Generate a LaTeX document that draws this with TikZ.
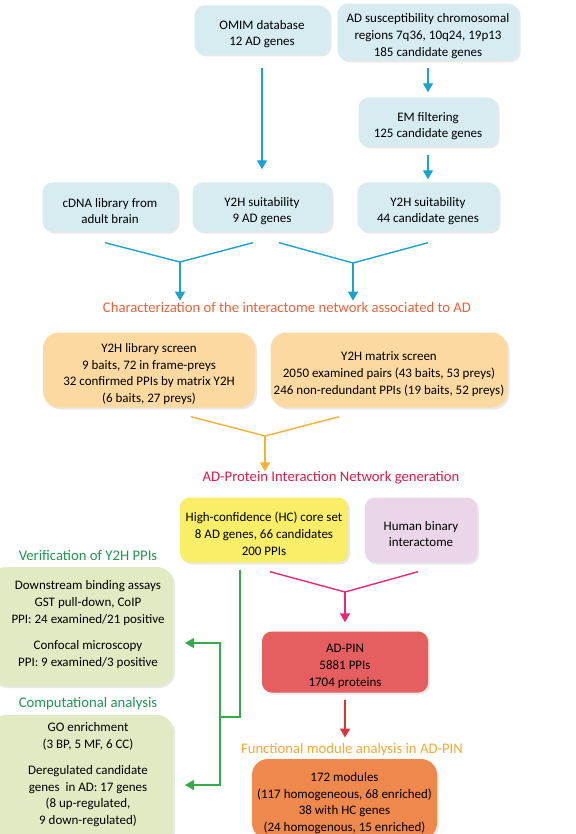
\documentclass[tikz,border=0pt]{standalone}
\usepackage{fontspec}
\setmainfont{Carlito}
\usetikzlibrary{arrows.meta,positioning,shadows}
\definecolor{boxblue}{RGB}{214,236,240}
\definecolor{lineblue}{RGB}{28,162,208}
\definecolor{titleorange}{RGB}{234,98,58}
\definecolor{boxorange}{RGB}{251,217,160}
\definecolor{lineorange}{RGB}{245,178,52}
\definecolor{titlered}{RGB}{222,28,68}
\definecolor{boxyellow}{RGB}{248,238,104}
\definecolor{boxpink}{RGB}{234,214,232}
\definecolor{linemagenta}{RGB}{230,40,120}
\definecolor{boxred}{RGB}{229,94,96}
\definecolor{linered}{RGB}{220,52,52}
\definecolor{titleamber}{RGB}{246,168,50}
\definecolor{boxamber}{RGB}{238,136,76}
\definecolor{titlegreen}{RGB}{32,150,82}
\definecolor{boxgreen}{RGB}{226,234,196}
\definecolor{linegreen}{RGB}{52,170,72}
\newcommand{\boxstrut}{\rule{0pt}{17pt}}
\tikzset{
    stepbox/.style={
           rectangle,
           rounded corners=10pt,
           inner sep=2pt,
           align=center,
           text=black,
           font=\fontsize{13}{16.7}\selectfont,
           drop shadow={opacity=0.18, shadow xshift=2pt, shadow yshift=-2pt},
           },
    boxtext/.style={
           align=center,
           text=black,
           font=\fontsize{13}{16.7}\selectfont,
           },
    heading/.style={
           font=\fontsize{14.7}{16}\selectfont,
           inner sep=1pt,
           },
    flow/.style={line width=1.4pt},
}

\begin{document}
\begin{tikzpicture}[x=1pt,y=-1pt,>={Triangle[length=9pt,width=10pt]}]
        \useasboundingbox (0,0) rectangle (575,834);
        \clip (0,0) rectangle (575,834);
        % sources
        \node[stepbox, fill=boxblue, minimum width=135pt, minimum height=49pt] (omim) at (262,30) {\boxstrut OMIM database\\12 AD genes};
        \node[stepbox, fill=boxblue, minimum width=181pt, minimum height=54pt] (susc) at (428,32) {\boxstrut AD susceptibility chromosomal\\regions 7q36, 10q24, 19p13\\185 candidate genes};
        \node[stepbox, fill=boxblue, below of=susc, node distance=90pt, minimum width=139pt, minimum height=49pt] (em) {\boxstrut EM filtering\\125 candidate genes};
        \node[stepbox, fill=boxblue, below of=em, node distance=85pt, minimum width=141pt, minimum height=49pt] (suit44) {\boxstrut Y2H suitability\\44 candidate genes};
        \node[stepbox, fill=boxblue, below of=omim, node distance=177pt, minimum width=139pt, minimum height=49pt] (suit9) {\boxstrut Y2H suitability\\9 AD genes};
        \node[stepbox, fill=boxblue, left of=suit9, node distance=152pt, minimum width=135pt, minimum height=49pt] (cdna) {\boxstrut cDNA library from\\adult brain};

        \draw[->, lineblue, flow] ([yshift=-13pt]omim.south) -- ([yshift=13pt]suit9.north);
        \draw[->, lineblue, flow] ([yshift=-7pt]susc.south) -- ([yshift=5pt]em.north);
        \draw[->, lineblue, flow] ([yshift=-8pt]em.south) -- ([yshift=3pt]suit44.north);

        % interactome
        \node[heading, text=titleorange] (charac) at (287,307) {Characterization of the interactome network associated to AD};
        \coordinate (jleft) at (180,262);
        \coordinate (jright) at (353,263);
        \draw[lineblue, flow] ([xshift=-5pt,yshift=-11pt]cdna.south) -- (jleft) -- ([xshift=-9pt,yshift=-11pt]suit9.south);
        \draw[lineblue, flow] ([xshift=17pt,yshift=-11pt]suit9.south) -- (jright) -- ([yshift=-11pt]suit44.south);
        \draw[->, lineblue, flow] (jleft) -- (jleft |- charac.north);
        \draw[->, lineblue, flow] (jright) -- (jright |- charac.north);

        \node[stepbox, fill=boxorange, rounded corners=16pt, minimum width=212pt, minimum height=75pt] (libscreen) at (149,370) {\boxstrut Y2H library screen\\9 baits, 72 in frame-preys\\32 confirmed PPIs by matrix Y2H\\(6 baits, 27 preys)};
        \node[stepbox, fill=boxorange, rounded corners=16pt, minimum width=237pt, minimum height=75pt] (matscreen) at (389,370) {\boxstrut Y2H matrix screen\\2050 examined pairs (43 baits, 53 preys)\\246 non-redundant PPIs (19 baits, 52 preys)};

        % network generation
        \node[heading, text=titlered] (adpingen) at (331,478) {AD-Protein Interaction Network generation};
        \coordinate (jorange) at (265,436);
        \draw[lineorange, flow] ([xshift=42pt,yshift=-9pt]libscreen.south) -- (jorange) -- ([xshift=-50pt,yshift=-9pt]matscreen.south);
        \draw[->, lineorange, flow] (jorange) -- ([yshift=-1pt]jorange |- adpingen.north);

        \node[stepbox, fill=boxyellow, minimum width=168pt, minimum height=65pt] (hc) at (264,530) {\boxstrut High-confidence (HC) core set\\8 AD genes, 66 candidates\\200 PPIs};
        \node[stepbox, fill=boxpink, minimum width=112pt, minimum height=65pt] (human) at (421,530) {\boxstrut Human binary\\interactome};
        \node[stepbox, fill=boxred, draw=brown!70!orange, densely dotted, minimum width=166pt, minimum height=61pt] (adpin) at (345,662) {\boxstrut AD-PIN\\5881 PPIs\\1704 proteins};
        \coordinate (jmagenta) at (345,592);
        \draw[linemagenta, flow] ([xshift=6pt,yshift=-9pt]hc.south) -- (jmagenta) -- ([xshift=-3pt,yshift=-9pt]human.south);
        \draw[->, linemagenta, flow] (jmagenta) -- ([yshift=9pt]adpin.north);

        % modules
        \node[heading, text=titleamber] (modtitle) at (352,750) {Functional module analysis in AD-PIN};
        \draw[->, linered, flow] ([yshift=-7pt]adpin.south) -- ([yshift=5pt]modtitle.north -| adpin.south);
        \node[stepbox, fill=boxamber, rounded corners=16pt, minimum width=185pt, minimum height=80pt] (modules) at (344.5,799) {\boxstrut 172 modules\\(117 homogeneous, 68 enriched)\\38 with HC genes\\(24 homogenous, 15 enriched)};

        % verification and computational analysis
        \node[heading, text=titlegreen] (vertitle) at (88,555) {Verification of Y2H PPIs};
        \node[stepbox, fill=boxgreen, rounded corners=16pt, minimum width=183pt, minimum height=119pt] (verif) at (81.5,626.5) {};
        \node[boxtext] (verif1) at (88,603) {Downstream binding assays\\GST pull-down, CoIP\\PPI: 24 examined/21 positive};
        \node[boxtext] (verif2) at (88,654.5) {Confocal microscopy\\PPI: 9 examined/3 positive};
        \node[heading, text=titlegreen] (comptitle) at (88,704) {Computational analysis};
        \node[stepbox, fill=boxgreen, rounded corners=16pt, minimum width=183pt, minimum height=130pt] (comp) at (81.5,780) {};
        \node[boxtext] (comp1) at (88,736.5) {GO enrichment\\(3 BP, 5 MF, 6 CC)};
        \node[boxtext] (comp2) at (88,796) {Deregulated candidate\\genes\ \ in AD: 17 genes\\(8 up-regulated,\\9 down-regulated)};
        \coordinate (gbend) at (240,717);
        \coordinate (gsplit) at (220,717);
        \coordinate (verifin) at (185,643);
        \coordinate (compin) at (185,785);
        \draw[linegreen, flow] ([xshift=-24pt,yshift=-7pt]hc.south) -- (gbend) -- (gsplit);
        \draw[->, linegreen, flow] (gsplit) |- (verifin);
        \draw[->, linegreen, flow] (gsplit) |- (compin);
    \end{tikzpicture}
\end{document}
